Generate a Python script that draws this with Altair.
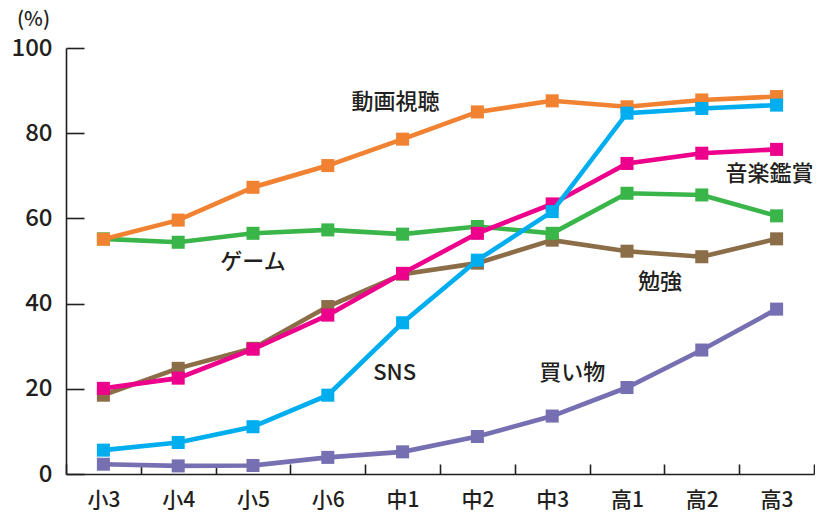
import altair as alt
import pandas as pd

grades = ["小3", "小4", "小5", "小6", "中1", "中2", "中3", "高1", "高2", "高3"]

douga = [55.1, 59.6, 67.3, 72.4, 78.6, 85.0, 87.6, 86.2, 87.8, 88.6]
game = [55.2, 54.4, 56.5, 57.3, 56.3, 58.1, 56.5, 65.9, 65.5, 60.6]
sns = [5.6, 7.4, 11.1, 18.5, 35.5, 50.2, 61.6, 84.7, 85.8, 86.6]
music = [20.1, 22.5, 29.3, 37.3, 47.1, 56.5, 63.4, 72.9, 75.3, 76.2]
study = [18.5, 24.8, 29.5, 39.3, 46.9, 49.5, 54.9, 52.3, 51.0, 55.2]
shop = [2.3, 1.9, 2.0, 3.9, 5.2, 8.8, 13.6, 20.3, 29.1, 38.7]

# drawing order: bottom to top
series_names = ["買い物", "勉強", "ゲーム", "動画視聴", "音楽鑑賞", "SNS"]
series_values = [shop, study, game, douga, music, sns]
series_colors = ["#7670B3", "#8B6D47", "#3AB54A", "#F08232", "#EC008C", "#00AEEF"]

label_text = ["動画視聴", "ゲーム", "SNS", "買い物", "勉強", "音楽鑑賞"]
label_grade = ["中1", "小5", "中1", "中3", "高1", "高3"]
label_value = [87.3, 49.8, 23.7, 23.7, 45.1, 70.4]
label_dx = [-7, 0, -8, 20, 33, -7]

y_ticks = [0, 20, 40, 60, 80, 100]

FONT = "Noto Sans CJK JP"
INK = "#231F20"

x_scale = alt.Scale(type="band", domain=grades, paddingInner=0, paddingOuter=0)
y_scale = alt.Scale(domain=[0, 100], nice=False)

x_axis = alt.Axis(
    title=None, labelAngle=0, labelFont=FONT, labelFontSize=21, labelFontWeight=500,
    labelColor=INK, domainColor=INK, domainWidth=1.6, tickColor=INK, tickWidth=1.6,
    tickSize={"expr": "-10"}, tickBand="extent", labelPadding=25, grid=False,
)
y_axis = alt.Axis(
    title="(%)", titleAngle=0, titleFont=FONT, titleFontSize=20, titleFontWeight=500,
    titleColor=INK, titleX=-33, titleY=-29, titleAlign="center", titleBaseline="middle",
    values=y_ticks, labelFont=FONT, labelFontSize=24, labelFontWeight=500, labelColor=INK,
    domainColor=INK, domainWidth=1.6, tickColor=INK, tickWidth=1.6,
    tickSize={"expr": "-18"}, labelPadding=32, grid=False,
)

layers = []
first = True
for name, vals, col in zip(series_names, series_values, series_colors):
    df = pd.DataFrame({"grade": grades, "value": vals, "series": name})
    base = alt.Chart(df)
    if first:
        xe = alt.X("grade:N", scale=x_scale, axis=x_axis, sort=grades)
        ye = alt.Y("value:Q", scale=y_scale, axis=y_axis)
        first = False
    else:
        xe = alt.X("grade:N", scale=x_scale, sort=grades)
        ye = alt.Y("value:Q", scale=y_scale)
    line = base.mark_line(color=col, strokeWidth=4.6).encode(x=xe, y=ye)
    pts = base.mark_point(shape="square", filled=True, size=170, color=col, opacity=1).encode(
        x=alt.X("grade:N", scale=x_scale, sort=grades), y=alt.Y("value:Q", scale=y_scale)
    )
    layers += [line, pts]

for t, g, v, dx in zip(label_text, label_grade, label_value, label_dx):
    ldf = pd.DataFrame({"grade": [g], "value": [v], "label": [t]})
    txt = alt.Chart(ldf).mark_text(
        font=FONT, fontSize=22, fontWeight=500, color=INK, dx=dx, align="center", baseline="middle"
    ).encode(
        x=alt.X("grade:N", scale=x_scale, sort=grades),
        y=alt.Y("value:Q", scale=y_scale),
        text="label:N",
    )
    layers.append(txt)

chart = alt.layer(*layers).properties(
    width=748, height=426,
    autosize=alt.AutoSizeParams(type="none"),
    padding={"left": 58, "top": 40, "right": 1, "bottom": 40},
    background="white",
).configure_view(stroke=None)

chart.save("out.html", embed_options={"renderer": "svg", "actions": False})
